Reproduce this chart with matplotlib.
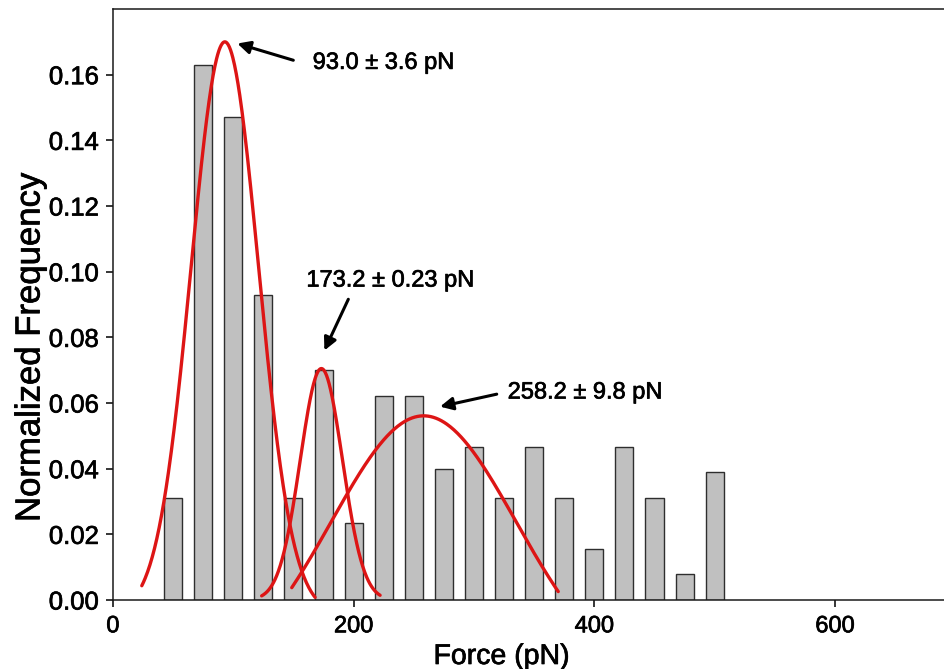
import numpy as np
import matplotlib
matplotlib.use("Agg")
import matplotlib.pyplot as plt
import matplotlib.patheffects as pe

plt.rcParams['font.family'] = ['Liberation Sans', 'DejaVu Sans']

# Histogram of rupture forces (bin centres in pN) and normalized frequencies
force_bins = [50, 75, 100, 125, 150, 175, 200, 225, 250, 275,
              300, 325, 350, 375, 400, 425, 450, 475, 500]
norm_freq = [0.031, 0.163, 0.147, 0.093, 0.031, 0.070, 0.0234, 0.062, 0.062, 0.040,
             0.0465, 0.031, 0.0465, 0.031, 0.0155, 0.0465, 0.031, 0.0078, 0.039]

# Gaussian fits: centre, uncertainty, peak height, width, baseline, fitted range
peak_centers = [93.0, 173.2, 258.2]
peak_errors = [3.6, 0.23, 9.8]
peak_heights = [0.170, 0.0705, 0.0561]
peak_widths = [28.0, 17.5, 76.7]
peak_baselines = [-0.004, 0.0, -0.0257]
fit_ranges = [(24.0, 168.0), (123.6, 222.0), (148.6, 370.0)]

x_ticks = [0, 200, 400, 600]
y_ticks = [0.00, 0.02, 0.04, 0.06, 0.08, 0.10, 0.12, 0.14, 0.16]

# slightly heavier glyphs for all text
heavy = [pe.withStroke(linewidth=0.5, foreground='black')]

fig = plt.figure(figsize=(9.44, 6.69), dpi=100)
ax = fig.add_axes([0.1196, 0.1031, 0.8925, 0.8834])

ax.bar(force_bins, norm_freq, width=15, color='#c0c0c0',
       edgecolor='#2e2e2e', linewidth=1.0, zorder=2)

for c, h, w, b, (x0, x1) in zip(peak_centers, peak_heights, peak_widths,
                                peak_baselines, fit_ranges):
    xs = np.linspace(x0, x1, 300)
    ys = b + (h - b) * np.exp(-(xs - c) ** 2 / (2 * w ** 2))
    ax.plot(xs, ys, color='#dd1515', lw=2.4, zorder=3, solid_capstyle='round')

# Peak annotations: arrow head offset from the peak, arrow tail, text anchor
head_offsets = [(10.4, -0.0005), (2.5, 0.0055), (13.6, 0.0028)]
tail_offsets = [(56.9, -0.0056), (22.4, 0.0211), (60.7, 0.0066)]
text_offsets = [(73.0, -0.0064), (57.3, 0.0268), (69.8, 0.0071)]
text_align = ['left', 'center', 'left']

for i, (c, e, h) in enumerate(zip(peak_centers, peak_errors, peak_heights)):
    hx, hy = c + head_offsets[i][0], h + head_offsets[i][1]
    tx, ty = c + tail_offsets[i][0], h + tail_offsets[i][1]
    ax.annotate('', xy=(hx, hy), xytext=(tx, ty),
                arrowprops=dict(arrowstyle='-|>', color='black', lw=2.2,
                                mutation_scale=19, shrinkA=0, shrinkB=0),
                zorder=4)
    lx, ly = c + text_offsets[i][0], h + text_offsets[i][1]
    ax.text(lx, ly, f"{c:.1f} \u00b1 {e:g} pN", fontsize=17,
            ha=text_align[i], va='center', color='black', zorder=4,
            path_effects=heavy)

ax.set_xlim(0, 700)
ax.set_ylim(0, 0.18)
ax.set_xticks(x_ticks)
ax.set_yticks(y_ticks)
ax.set_yticklabels([f"{v:.2f}" for v in y_ticks])
ax.tick_params(axis='both', direction='out', length=5, width=1.1, colors='black')
ax.tick_params(axis='x', labelsize=17, pad=6)
ax.tick_params(axis='y', labelsize=18.5, pad=5)
for lbl in ax.get_xticklabels() + ax.get_yticklabels():
    lbl.set_path_effects(heavy)

for side in ['left', 'bottom', 'top']:
    ax.spines[side].set_linewidth(1.1)
    ax.spines[side].set_color('#1a1a1a')
ax.spines['right'].set_visible(False)

ax.set_xlabel('Force (pN)', fontsize=20.5, color='black', path_effects=heavy)
ax.xaxis.set_label_coords(501.7 / 944, 1 - 664 / 669, transform=fig.transFigure)
ax.xaxis.label.set_va('baseline')

ax.set_ylabel('Normalized Frequency', fontsize=25, color='black', path_effects=heavy)
ax.yaxis.set_label_coords(30 / 944, 1 - 347 / 669, transform=fig.transFigure)
ax.yaxis.label.set_va('center')

fig.savefig('out.png', dpi=100)
